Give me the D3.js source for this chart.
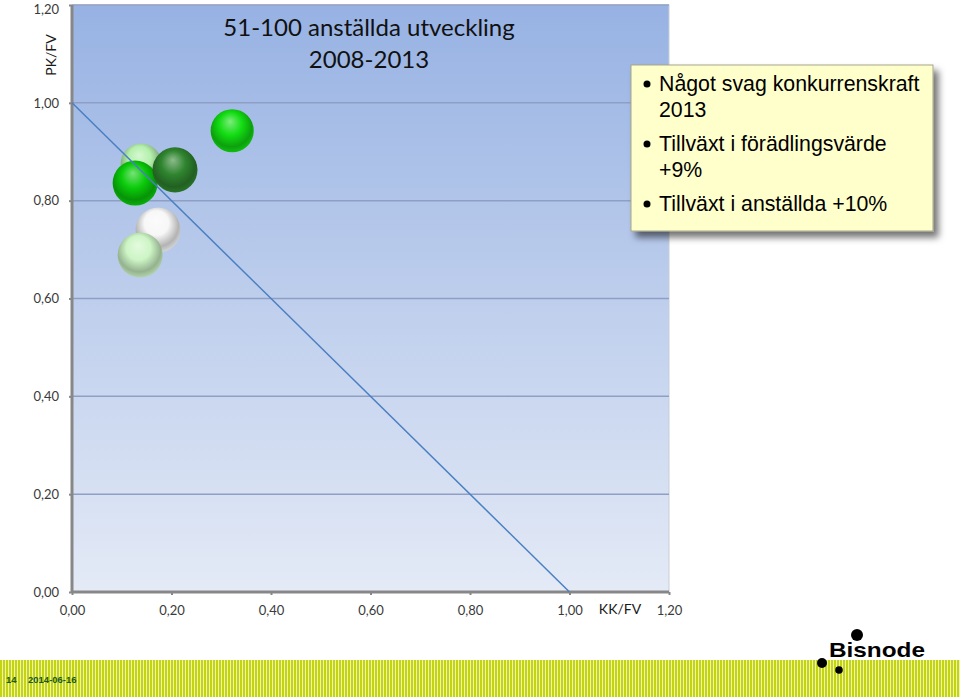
<!DOCTYPE html>
<html>
<head>
<meta charset="utf-8">
<script src="https://cdn.jsdelivr.net/npm/d3@7"></script>
<style>
html,body{margin:0;padding:0;background:#fff;}
svg{display:block;}
</style>
</head>
<body>
<svg id="chart" width="960" height="697"></svg>
<script>
// ---- data ----
const titleLines = ["51-100 anställda utveckling", "2008-2013"];
const xTicks = [0, 0.2, 0.4, 0.6, 0.8, 1.0, 1.2];
const yTicks = [0, 0.2, 0.4, 0.6, 0.8, 1.0, 1.2];
const xAxisTitle = "KK/FV";
const yAxisTitle = "PK/FV";
const bubbleX = [0.139, 0.127, 0.207, 0.173, 0.137, 0.322];
const bubbleY = [0.875, 0.836, 0.863, 0.740, 0.689, 0.943];
const bubbleSize = [40, 48, 48, 48, 48, 44];
const bubbleColor = ["#b4f0ac", "#0acb0a", "#2f842f", "#f7f7f7", "#cdf5c5", "#12dc12"];
const refLineX = [0, 1];
const refLineY = [1, 0];
const legendLines = [["Något svag konkurrenskraft", "2013"], ["Tillväxt i förädlingsvärde", "+9%"], ["Tillväxt i anställda +10%"]];
const footerText = ["14", "2014-06-16"];

// ---- layout ----
const svg = d3.select("#chart");
const plot = {left: 72, right: 669, top: 5, bottom: 592};
const x = d3.scaleLinear().domain([0, 1.2]).range([plot.left, plot.right]);
const y = d3.scaleLinear().domain([0, 1.2]).range([plot.bottom, plot.top]);
const r = d3.scaleSqrt().domain([0, 50]).range([0, 23]);
const fmt = d => d3.format(".2f")(d).replace(".", ",");

const defs = svg.append("defs");
const bg = defs.append("linearGradient").attr("id", "bg").attr("x1", 0).attr("y1", 0).attr("x2", 0).attr("y2", 1);
bg.append("stop").attr("offset", "0%").attr("stop-color", "#97b2e3");
bg.append("stop").attr("offset", "100%").attr("stop-color", "#e4eaf6");

bubbleColor.forEach((c, i) => {
  const g = defs.append("radialGradient").attr("id", "sph" + i)
    .attr("cx", "48%").attr("cy", "42%").attr("r", "60%").attr("fx", "45%").attr("fy", "28%");
  const base = d3.color(c);
  g.append("stop").attr("offset", "0%").attr("stop-color", d3.interpolateRgb(c, "#ffffff")(0.45));
  g.append("stop").attr("offset", "45%").attr("stop-color", c);
  g.append("stop").attr("offset", "80%").attr("stop-color", base.darker(0.9));
  g.append("stop").attr("offset", "100%").attr("stop-color", base.darker(0.35));
});

const shadow = defs.append("filter").attr("id", "shadow").attr("x", "-10%").attr("y", "-10%").attr("width", "130%").attr("height", "140%");
shadow.append("feDropShadow").attr("dx", 5).attr("dy", 6).attr("stdDeviation", 3.5).attr("flood-color", "#000").attr("flood-opacity", 0.55);

// footer stripe pattern
const pat = defs.append("pattern").attr("id", "stripes").attr("patternUnits", "userSpaceOnUse").attr("width", 3).attr("height", 6);
pat.append("rect").attr("width", 3).attr("height", 6).attr("fill", "#c4d414");
pat.append("rect").attr("x", 2).attr("width", 1).attr("height", 6).attr("fill", "#eef5a8");

// plot background
svg.append("rect").attr("x", plot.left).attr("y", plot.top)
  .attr("width", plot.right - plot.left).attr("height", plot.bottom - plot.top)
  .attr("fill", "url(#bg)").attr("stroke", "#c8cdd6").attr("stroke-width", 1);

// gridlines
svg.append("g").selectAll("line").data(yTicks.filter(d => d > 0)).join("line")
  .attr("x1", plot.left).attr("x2", plot.right)
  .attr("y1", d => y(d)).attr("y2", d => y(d))
  .attr("stroke", "#8e9fc3").attr("stroke-width", 1.5);

// axes
const yAxis = d3.axisLeft(y).tickValues(yTicks).tickFormat(fmt).tickSize(3).tickPadding(10);
const xAxis = d3.axisBottom(x).tickValues(xTicks).tickFormat(fmt).tickSize(3).tickPadding(11);
const gy = svg.append("g").attr("transform", `translate(${plot.left},0)`).call(yAxis);
const gx = svg.append("g").attr("transform", `translate(0,${plot.bottom})`).call(xAxis);
[gx, gy].forEach(g => {
  g.select(".domain").attr("stroke", "#878787").attr("stroke-width", 3);
  g.selectAll(".tick line").attr("stroke", "#878787").attr("stroke-width", 2);
  g.selectAll(".tick text").attr("fill", "#3a3a3a").style("font-family", "Lato, 'Open Sans', sans-serif").style("font-size", "13px");
});
gy.select(".domain").attr("d", `M0,${plot.top}V${plot.bottom}`);
gx.select(".domain").attr("d", `M${plot.left},0H${plot.right}`);
gy.selectAll(".tick text").filter(d => d === 1.2).attr("dy", "0.62em");

// bubbles
const bubbles = bubbleX.map((d, i) => ({x: d, y: bubbleY[i], s: bubbleSize[i], i}));
svg.append("g").selectAll("circle").data(bubbles).join("circle")
  .attr("cx", d => x(d.x)).attr("cy", d => y(d.y)).attr("r", d => r(d.s))
  .attr("fill", d => `url(#sph${d.i})`);

// reference line
svg.append("line")
  .attr("x1", x(refLineX[0])).attr("y1", y(refLineY[0]))
  .attr("x2", x(refLineX[1])).attr("y2", y(refLineY[1]))
  .attr("stroke", "#4a7fc1").attr("stroke-width", 1.5);

// axis titles
svg.append("text").attr("transform", `translate(56,55) rotate(-90)`)
  .attr("text-anchor", "middle").attr("fill", "#1a1a1a")
  .style("font-family", "Lato, 'Open Sans', sans-serif").style("font-size", "14px").text(yAxisTitle);
svg.append("text").attr("x", 620).attr("y", 614).attr("text-anchor", "middle").attr("fill", "#1a1a1a")
  .style("font-family", "Lato, 'Open Sans', sans-serif").style("font-size", "14px").text(xAxisTitle);

// title
svg.append("g").selectAll("text").data(titleLines).join("text")
  .attr("x", 369).attr("y", (d, i) => 36 + i * 32).attr("text-anchor", "middle").attr("fill", "#111")
  .style("font-family", "Lato, 'Open Sans', sans-serif").style("font-size", "24px").text(d => d);

// legend box
const lg = svg.append("g");
lg.append("rect").attr("x", 631).attr("y", 65).attr("width", 302).attr("height", 166)
  .attr("fill", "#ffffcc").attr("stroke", "#a6a68a").attr("stroke-width", 1).attr("filter", "url(#shadow)");
let ly = 91;
legendLines.forEach(lines => {
  lg.append("circle").attr("cx", 647).attr("cy", ly - 7).attr("r", 3.5).attr("fill", "#000");
  lines.forEach((t, j) => {
    lg.append("text").attr("x", 659).attr("y", ly + j * 26).attr("fill", "#000")
      .style("font-family", "'Liberation Sans', Arial, sans-serif").style("font-size", "21.3px").text(t);
  });
  ly += lines.length * 26 + 8;
});

// footer
svg.append("rect").attr("x", 0).attr("y", 660).attr("width", 960).attr("height", 37).attr("fill", "url(#stripes)");
svg.append("text").attr("x", 6).attr("y", 683).attr("fill", "#1d5a17")
  .style("font-family", "'Liberation Sans', Arial, sans-serif").style("font-size", "9.5px").style("font-weight", "bold").text(footerText[0]);
svg.append("text").attr("x", 28).attr("y", 683).attr("fill", "#1d5a17")
  .style("font-family", "'Liberation Sans', Arial, sans-serif").style("font-size", "9.5px").style("font-weight", "bold").text(footerText[1]);

// logo
svg.append("text").attr("x", 829).attr("y", 657).attr("fill", "#000")
  .attr("textLength", 96).attr("lengthAdjust", "spacingAndGlyphs")
  .style("font-family", "'Liberation Sans', Arial, sans-serif").style("font-size", "21px").style("font-weight", "bold")
  .text("Bisnode");
svg.append("circle").attr("cx", 857).attr("cy", 635).attr("r", 6).attr("fill", "#000");
svg.append("circle").attr("cx", 822).attr("cy", 663).attr("r", 5).attr("fill", "#000");
svg.append("circle").attr("cx", 839).attr("cy", 670).attr("r", 3.8).attr("fill", "#000");
</script>
</body>
</html>
